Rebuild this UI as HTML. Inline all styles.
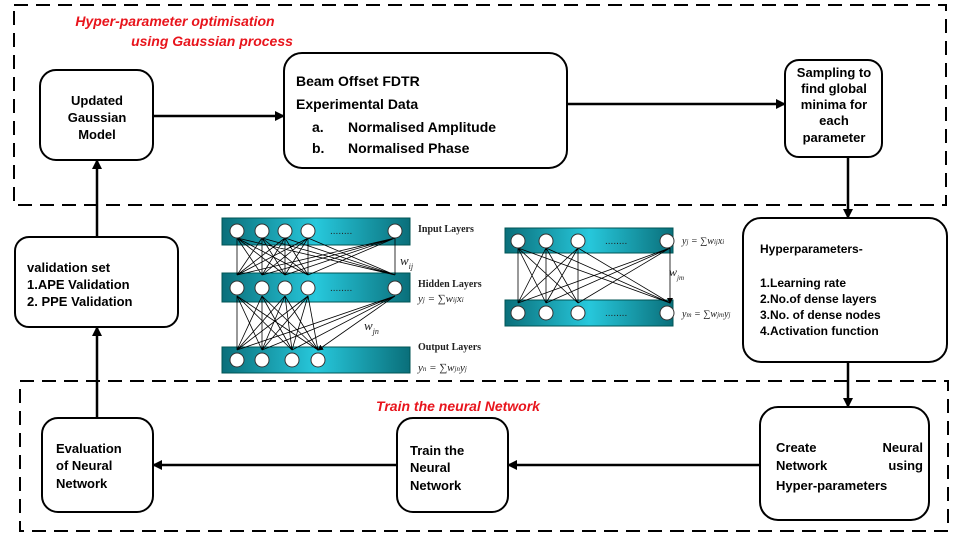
<!DOCTYPE html>
<html><head><meta charset="utf-8"><style>
body{margin:0;background:#fff;}
svg{display:block;font-family:"Liberation Sans",Arial,sans-serif;}
.b{font-weight:bold;font-size:13px;fill:#000;}
</style></head><body>
<svg width="960" height="540" viewBox="0 0 960 540" xmlns="http://www.w3.org/2000/svg">
<defs>
<marker id="ah" markerWidth="10" markerHeight="10" refX="9" refY="5" orient="auto" markerUnits="userSpaceOnUse"><path d="M0,0 L10,5 L0,10 z" fill="#000"/></marker>
<marker id="sa" markerWidth="6" markerHeight="6" refX="5" refY="3" orient="auto" markerUnits="userSpaceOnUse"><path d="M0,0 L6,3 L0,6 z" fill="#000"/></marker>
<linearGradient id="band" x1="0" x2="1" y1="0" y2="0">
<stop offset="0" stop-color="#0a6f7a"/><stop offset="0.5" stop-color="#27c8dc"/><stop offset="1" stop-color="#0a6f7a"/></linearGradient>
</defs>
<rect x="14" y="5" width="932" height="200" fill="none" stroke="#000" stroke-width="2" stroke-dasharray="14,8"/>
<rect x="20" y="381" width="928" height="150" fill="none" stroke="#000" stroke-width="2" stroke-dasharray="14,8"/>
<text x="110" y="26" fill="#e8141c" font-size="14" font-weight="bold" font-style="italic" text-anchor="middle"><tspan x="175" y="26">Hyper-parameter optimisation</tspan><tspan x="212" y="46">using Gaussian process</tspan></text>
<text x="458" y="411" fill="#e8141c" font-size="14" font-weight="bold" font-style="italic" text-anchor="middle">Train the neural Network</text>

<g fill="#fff" stroke="#000" stroke-width="2">
<rect x="40" y="70" width="113" height="90" rx="16"/>
<rect x="284" y="53" width="283" height="115" rx="18"/>
<rect x="785" y="60" width="97" height="97" rx="14"/>
<rect x="743" y="218" width="204" height="144" rx="18"/>
<rect x="15" y="237" width="163" height="90" rx="14"/>
<rect x="42" y="418" width="111" height="94" rx="16"/>
<rect x="397" y="418" width="111" height="94" rx="16"/>
<rect x="760" y="407" width="169" height="113" rx="18"/>
</g>
<g class="b" text-anchor="middle">
<text x="97" y="105">Updated</text><text x="97" y="122">Gaussian</text><text x="97" y="139">Model</text>
<text x="834" y="77">Sampling to</text><text x="834" y="93">find global</text><text x="834" y="109">minima for</text><text x="834" y="125">each</text><text x="834" y="142">parameter</text>
</g>
<g class="b" font-size="14">
<text x="296" y="86" font-size="14">Beam Offset FDTR</text>
<text x="296" y="109" font-size="14">Experimental Data</text>
<text x="312" y="132" font-size="14">a.</text><text x="348" y="132" font-size="14">Normalised Amplitude</text>
<text x="312" y="153" font-size="14">b.</text><text x="348" y="153" font-size="14">Normalised Phase</text>
</g>
<g class="b" font-size="12">
<text x="760" y="253" font-size="12">Hyperparameters-</text>
<text x="760" y="287" font-size="12">1.Learning rate</text>
<text x="760" y="303" font-size="12">2.No.of dense layers</text>
<text x="760" y="319" font-size="12">3.No. of dense nodes</text>
<text x="760" y="335" font-size="12">4.Activation function</text>
<text x="27" y="272">validation set</text>
<text x="27" y="289">1.APE Validation</text>
<text x="27" y="306">2. PPE Validation</text>
<text x="56" y="453">Evaluation</text><text x="56" y="470">of Neural</text><text x="56" y="488">Network</text>
<text x="410" y="455">Train the</text><text x="410" y="472">Neural</text><text x="410" y="490">Network</text>
<text x="776" y="452">Create</text><text x="923" y="452" text-anchor="end">Neural</text>
<text x="776" y="470">Network</text><text x="923" y="470" text-anchor="end">using</text>
<text x="776" y="490">Hyper-parameters</text>
</g>
<g stroke="#000" stroke-width="2.5" fill="none" marker-end="url(#ah)">
<line x1="153" y1="116" x2="284" y2="116"/>
<line x1="567" y1="104" x2="785" y2="104"/>
<line x1="848" y1="157" x2="848" y2="218"/>
<line x1="848" y1="362" x2="848" y2="407"/>
<line x1="760" y1="465" x2="508" y2="465"/>
<line x1="397" y1="465" x2="153" y2="465"/>
<line x1="97" y1="418" x2="97" y2="327"/>
<line x1="97" y1="237" x2="97" y2="160"/>
</g>

<!-- NN 1 -->
<g>
<rect x="222" y="218" width="188" height="27" fill="url(#band)" stroke="#055"/>
<rect x="222" y="273" width="188" height="29" fill="url(#band)" stroke="#055"/>
<rect x="222" y="347" width="188" height="26" fill="url(#band)" stroke="#055"/>
<g stroke="#000" stroke-width="0.8" marker-end="url(#sa)">
<path d="M237,238 L237,275 M237,238 L262,275 M237,238 L285,275 M237,238 L308,275 M237,238 L395,275
M262,238 L237,275 M262,238 L262,275 M262,238 L285,275 M262,238 L308,275 M262,238 L395,275
M285,238 L237,275 M285,238 L262,275 M285,238 L285,275 M285,238 L308,275 M285,238 L395,275
M308,238 L237,275 M308,238 L262,275 M308,238 L285,275 M308,238 L308,275 M308,238 L395,275
M395,238 L237,275 M395,238 L262,275 M395,238 L285,275 M395,238 L308,275 M395,238 L395,275
M237,296 L237,350 M237,296 L262,350 M237,296 L292,350 M237,296 L318,350
M262,296 L237,350 M262,296 L262,350 M262,296 L292,350 M262,296 L318,350
M285,296 L237,350 M285,296 L262,350 M285,296 L292,350 M285,296 L318,350
M308,296 L237,350 M308,296 L262,350 M308,296 L292,350 M308,296 L318,350
M395,296 L237,350 M395,296 L262,350 M395,296 L292,350 M395,296 L318,350"/>
</g>
<g fill="#fff" stroke="#333" stroke-width="1">
<circle cx="237" cy="231" r="7"/><circle cx="262" cy="231" r="7"/><circle cx="285" cy="231" r="7"/><circle cx="308" cy="231" r="7"/><circle cx="395" cy="231" r="7"/>
<circle cx="237" cy="288" r="7"/><circle cx="262" cy="288" r="7"/><circle cx="285" cy="288" r="7"/><circle cx="308" cy="288" r="7"/><circle cx="395" cy="288" r="7"/>
<circle cx="237" cy="360" r="7"/><circle cx="262" cy="360" r="7"/><circle cx="292" cy="360" r="7"/><circle cx="318" cy="360" r="7"/>
</g>
<text x="330" y="234" font-size="10" fill="#222">........</text>
<text x="330" y="291" font-size="10" fill="#222">........</text>
<g font-family="Liberation Serif,serif" font-weight="bold" font-size="10" fill="#222">
<text x="418" y="232">Input Layers</text>
<text x="418" y="287">Hidden Layers</text>
<text x="418" y="350">Output Layers</text>
</g>
<g font-family="Liberation Serif,serif" font-style="italic" font-size="11" fill="#222">
<text x="418" y="302">y<tspan font-size="7">j</tspan> = ∑w<tspan font-size="7">ij</tspan>x<tspan font-size="7">i</tspan></text>
<text x="418" y="371">y<tspan font-size="7">n</tspan> = ∑w<tspan font-size="7">jn</tspan>y<tspan font-size="7">j</tspan></text>
<text x="400" y="265" font-size="13">w<tspan font-size="8" dy="4">ij</tspan></text>
<text x="364" y="330" font-size="13">w<tspan font-size="8" dy="4">jn</tspan></text>
</g>
</g>

<!-- NN 2 -->
<g>
<rect x="505" y="228" width="168" height="25" fill="url(#band)" stroke="#055"/>
<rect x="505" y="300" width="168" height="26" fill="url(#band)" stroke="#055"/>
<g stroke="#000" stroke-width="0.8" marker-end="url(#sa)">
<path d="M518,248 L518,303 M518,248 L546,303 M518,248 L578,303 M518,248 L670,303
M546,248 L518,303 M546,248 L546,303 M546,248 L578,303 M546,248 L670,303
M578,248 L518,303 M578,248 L546,303 M578,248 L578,303 M578,248 L670,303
M670,248 L518,303 M670,248 L546,303 M670,248 L578,303 M670,248 L670,303"/>
</g>
<g fill="#fff" stroke="#333" stroke-width="1">
<circle cx="518" cy="241" r="7"/><circle cx="546" cy="241" r="7"/><circle cx="578" cy="241" r="7"/><circle cx="667" cy="241" r="7"/>
<circle cx="518" cy="313" r="7"/><circle cx="546" cy="313" r="7"/><circle cx="578" cy="313" r="7"/><circle cx="667" cy="313" r="7"/>
</g>
<text x="605" y="244" font-size="10" fill="#222">........</text>
<text x="605" y="316" font-size="10" fill="#222">........</text>
<g font-family="Liberation Serif,serif" font-style="italic" font-size="10" fill="#222">
<text x="682" y="244">y<tspan font-size="7">j</tspan> = ∑w<tspan font-size="7">ij</tspan>x<tspan font-size="7">i</tspan></text>
<text x="682" y="317">y<tspan font-size="7">m</tspan> = ∑w<tspan font-size="7">jm</tspan>y<tspan font-size="7">j</tspan></text>
<text x="669" y="276" font-size="12">w<tspan font-size="7" dy="4">jm</tspan></text>
</g>
</g>
</svg>
</body></html>
